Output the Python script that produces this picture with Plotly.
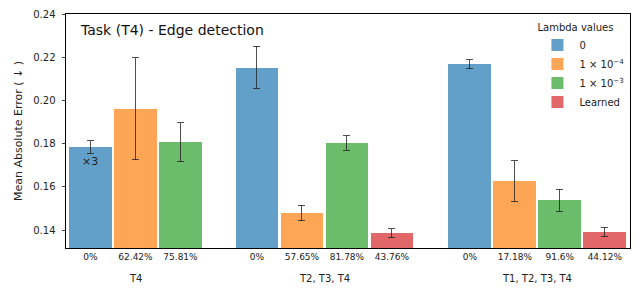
import plotly.graph_objects as go

groups = ["T4", "T2, T3, T4", "T1, T2, T3, T4"]
series = ["0", "1 × 10<sup>−4</sup>", "1 × 10<sup>−3</sup>", "Learned"]
colors = ["rgba(31,119,180,0.7)", "rgba(255,127,14,0.7)", "rgba(44,160,44,0.7)", "rgba(214,39,40,0.7)"]

# values per group, ordered by series (None = missing)
values = [
    [0.1784, 0.1962, 0.1807, None],
    [0.2152, 0.1479, 0.1803, 0.1386],
    [0.2168, 0.1627, 0.1539, 0.1391],
]
errors = [
    [0.0030, 0.0236, 0.0090, None],
    [0.0099, 0.0036, 0.0033, 0.0021],
    [0.0021, 0.0093, 0.0051, 0.0021],
]
percents = [
    ["0%", "62.42%", "75.81%"],
    ["0%", "57.65%", "81.78%", "43.76%"],
    ["0%", "17.18%", "91.6%", "44.12%"],
]

group_start = [0.0, 3.7, 8.43]

fig = go.Figure()
tickvals, ticktext = [], []
for s_idx, name in enumerate(series):
    xs, ys, es = [], [], []
    for g_idx in range(len(groups)):
        v = values[g_idx][s_idx]
        if v is None:
            continue
        xs.append(group_start[g_idx] + s_idx)
        ys.append(v)
        es.append(errors[g_idx][s_idx])
    fig.add_trace(go.Bar(
        x=xs, y=ys, name=name, width=0.95,
        marker=dict(color=colors[s_idx], line=dict(width=0)),
        error_y=dict(type="data", array=es, color="#222", thickness=0.8, width=3.5),
    ))

for g_idx, g in enumerate(groups):
    n = len(percents[g_idx])
    for i in range(n):
        tickvals.append(group_start[g_idx] + i)
        ticktext.append(percents[g_idx][i])
    fig.add_annotation(x=group_start[g_idx] + (n - 1) / 2, y=-0.1, xref="x", yref="paper",
                       text=g, showarrow=False, yanchor="top",
                       font=dict(size=10, color="#222"))

fig.add_annotation(x=group_start[0], y=values[0][0], xref="x", yref="y", text="×3",
                   showarrow=False, yanchor="top", yshift=-6, font=dict(size=11, color="#222"))

fig.add_annotation(x=0.021, y=0.975, xref="paper", yref="paper", text="Task (T4) - Edge detection",
                   showarrow=False, xanchor="left", yanchor="top", font=dict(size=14, color="#111"))

fig.update_layout(
    width=640, height=290,
    margin=dict(l=66, r=10, t=14, b=42),
    paper_bgcolor="white", plot_bgcolor="white",
    font=dict(family="DejaVu Sans", size=10, color="#222"),
    bargap=0, barmode="overlay",
    showlegend=True,
    legend=dict(x=0.999, y=0.985, xanchor="right", yanchor="top",
                title=dict(text="Lambda values", side="top", font=dict(size=10)),
                font=dict(size=10), bgcolor="rgba(255,255,255,0.8)",
                itemwidth=34, tracegroupgap=0),
    xaxis=dict(range=[-0.544, 11.99], tickvals=tickvals, ticktext=ticktext,
               showline=True, linecolor="black", linewidth=1, mirror=True, automargin=False,
               ticks="", showgrid=False, zeroline=False, tickfont=dict(size=9)),
    yaxis=dict(range=[0.1317, 0.24], tickvals=[0.14, 0.16, 0.18, 0.20, 0.22, 0.24],
               tickformat=".2f", showline=True, linecolor="black", linewidth=1, mirror=True,
               ticks="outside", ticklen=3.5, showgrid=False, zeroline=False, automargin=False,
               ticklabelstandoff=4,
               title=dict(text="Mean Absolute Error ( ↓ )", standoff=8, font=dict(size=11)),
               tickfont=dict(size=10)),
)

fig.write_html("out.html", post_script="document.body.style.margin='0';",
               config={"displayModeBar": False})
